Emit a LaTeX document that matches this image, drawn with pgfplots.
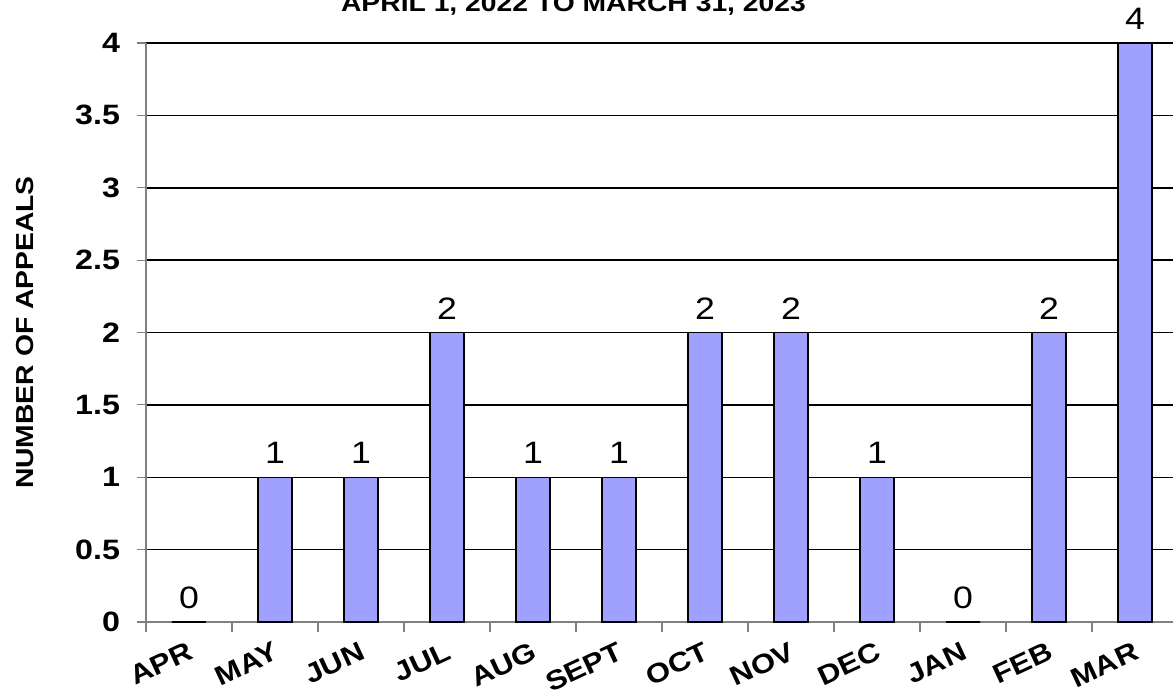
\documentclass[border=0pt]{standalone}
\usepackage{fontspec}
\setmainfont{Liberation Sans}[FakeStretch=1.15]
\usepackage{pgfplots}
\pgfplotsset{compat=1.18}
\definecolor{barBlue}{RGB}{160,160,255}
\definecolor{axGray}{RGB}{128,128,128}
\newcommand{\lblfont}{\fontsize{14}{16}\bfseries}
\begin{document}
\begin{tikzpicture}
\begin{axis}[
  at={(0,0)}, anchor=south west,
  scale only axis, width=516pt, height=289.5pt,
  xmin=-0.5, xmax=11.5, ymin=0, ymax=4,
  clip=false,
  ybar, bar width=17pt,
  axis x line*=bottom, axis y line*=left,
  axis line style={-, draw=axGray, line width=1pt},
  ytick={0,0.5,1,1.5,2,2.5,3,3.5,4},
  ymajorgrids, grid style={black, line width=0.75pt},
  xtick={0,...,11},
  xticklabels={APR,MAY,JUN,JUL,AUG,SEPT,OCT,NOV,DEC,JAN,FEB,MAR},
  minor xtick={-0.5,0.5,...,11.5},
  major x tick style={draw=none},
  tick align=outside, major tick length=4.5pt, minor tick length=5pt,
  tick style={axGray, line width=0.6pt},
  /pgf/number format/assume math mode=true,
  yticklabel style={font=\lblfont, xshift=-5pt},
  xticklabel style={font=\fontsize{13.5}{16}\bfseries, rotate=25, anchor=north east, inner sep=0pt, yshift=-4pt, xshift=-3pt},
  ylabel={NUMBER OF APPEALS},
  ylabel style={at={(axis description cs:0,0.5)}, anchor=center, yshift=60.5pt, font=\fontsize{12.3}{15}\bfseries},
  nodes near coords, point meta=y,
  nodes near coords style={font=\fontsize{15.5}{18}\selectfont, black, yshift=3pt},
]
\addplot[fill=barBlue, draw=black, line width=0.75pt]
  coordinates {(0,0) (1,1) (2,1) (3,2) (4,1) (5,1) (6,2) (7,2) (8,1) (9,0) (10,2) (11,4)};
\end{axis}
\node[anchor=base, font=\fontsize{12.3}{15}\bfseries] at (213.75pt,305pt) {APRIL 1, 2022 TO MARCH 31, 2023};
\pgfresetboundingbox
\path[use as bounding box] (-73pt,-34.5pt) rectangle (513.5pt,311pt);
\end{tikzpicture}
\end{document}
